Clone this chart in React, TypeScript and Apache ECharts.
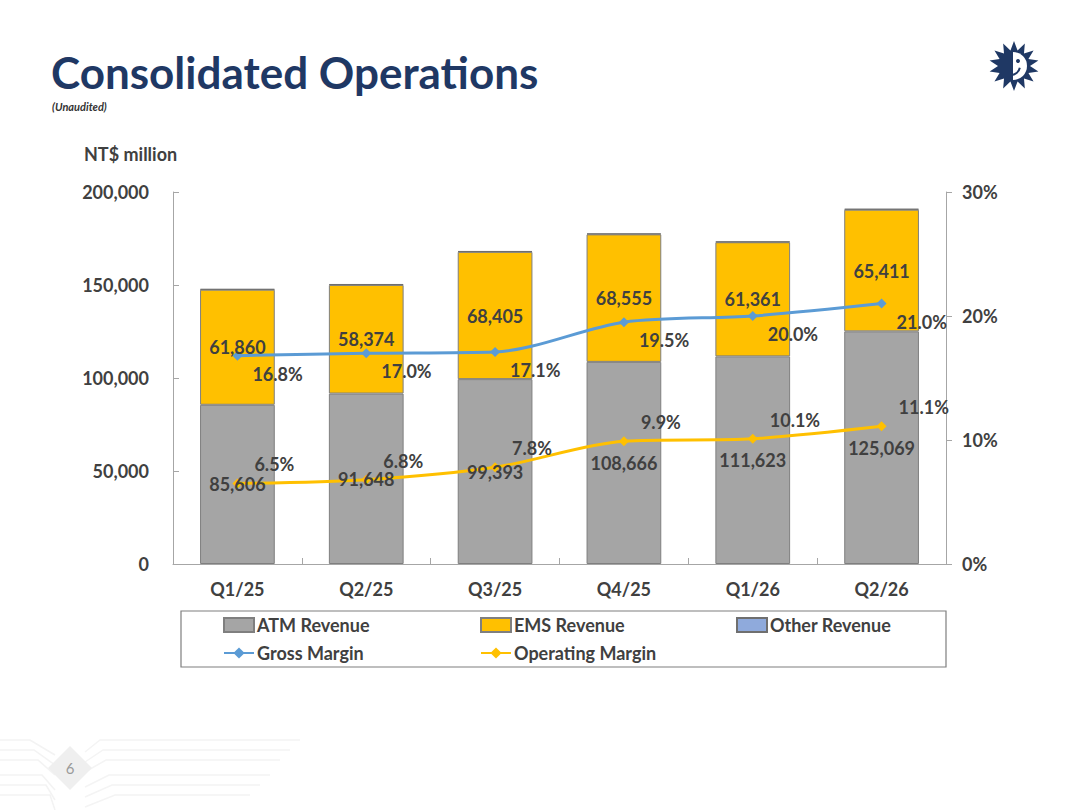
import React, { useEffect, useRef } from "react";
import * as echarts from "echarts";

const categories = ["Q1/25", "Q2/25", "Q3/25", "Q4/25", "Q1/26", "Q2/26"];
const atmRevenue = [85606, 91648, 99393, 108666, 111623, 125069];
const emsRevenue = [61860, 58374, 68405, 68555, 61361, 65411];
const otherRevenue = [400, 500, 450, 500, 450, 500];
const grossMargin = [16.8, 17.0, 17.1, 19.5, 20.0, 21.0];
const operatingMargin = [6.5, 6.8, 7.8, 9.9, 10.1, 11.1];

const FONT = "Lato, 'Open Sans', sans-serif";
const TXT = "#404040";

function starPoints(cx: number, cy: number, ro: number, ri: number, n: number) {
  const pts: number[][] = [];
  for (let i = 0; i < n * 2; i++) {
    const r = i % 2 === 0 ? ro : ri;
    const a = (Math.PI * i) / n - Math.PI / 2;
    pts.push([cx + r * Math.cos(a), cy + r * Math.sin(a)]);
  }
  return pts;
}

export default function App() {
  const ref = useRef<HTMLDivElement>(null);
  useEffect(() => {
    document.body.style.margin = "0";
    if (!ref.current) return;
    const chart = echarts.init(ref.current, undefined, { renderer: "svg" });
    const fmtNum = (p: any) => Number(p.value).toLocaleString("en-US");
    const labelBase = {
      fontFamily: FONT,
      fontWeight: "bold" as const,
      fontSize: 18,
      color: TXT,
    };
    const legendBase = {
      orient: "horizontal" as const,
      itemWidth: 30,
      itemHeight: 14,
      itemGap: 4,
      selectedMode: false,
      textStyle: { fontFamily: FONT, fontWeight: "bold" as const, fontSize: 18, color: TXT, padding: [0, 0, 0, -2] },
    };
    const footerLines: any[] = [];
    const ys = [740, 750, 760, 775, 785, 795];
    ys.forEach((y, i) => {
      footerLines.push({
        type: "polyline",
        silent: true,
        shape: { points: [[0, y], [30 + i * 4, y], [55, y + 15]] },
        style: { stroke: "#f3f3f3", lineWidth: 1.5, fill: "none" },
      });
      footerLines.push({
        type: "polyline",
        silent: true,
        shape: { points: [[85, y + 12], [100 + i * 3, y], [300 - i * 10, y]] },
        style: { stroke: "#f4f4f4", lineWidth: 1.5, fill: "none" },
      });
    });

    const hiddenBar = {
      type: "bar",
      stack: "labels",
      barGap: "-100%",
      barCategoryGap: "42%",
      silent: true,
      itemStyle: { color: "rgba(0,0,0,0)" },
      z: 10,
    };

    chart.setOption({
      animation: false,
      backgroundColor: "#ffffff",
      grid: { left: 173, right: 134, top: 192, bottom: 246, containLabel: false },
      legend: [
        { ...legendBase, left: 218, top: 611, data: [{ name: "ATM Revenue", icon: "rect" }] },
        { ...legendBase, left: 475, top: 611, data: [{ name: "EMS Revenue", icon: "rect" }] },
        { ...legendBase, left: 731, top: 611, data: [{ name: "Other Revenue", icon: "rect" }] },
        { ...legendBase, left: 218, top: 639, data: ["Gross Margin"] },
        { ...legendBase, left: 475, top: 639, data: ["Operating Margin"] },
      ],
      xAxis: {
        type: "category",
        data: categories,
        axisLine: { lineStyle: { color: "#a6a6a6", width: 1 } },
        axisTick: { show: true, inside: true, length: 6, lineStyle: { color: "#a6a6a6" } },
        axisLabel: { ...labelBase, fontSize: 18, margin: 16 },
        splitLine: { show: false },
      },
      yAxis: [
        {
          type: "value",
          min: 0,
          max: 200000,
          interval: 50000,
          axisLine: { show: true, lineStyle: { color: "#a6a6a6" } },
          axisTick: { show: true, inside: true, length: 6, lineStyle: { color: "#a6a6a6" } },
          axisLabel: { ...labelBase, margin: 24, formatter: (v: number) => v.toLocaleString("en-US") },
          splitLine: { show: false },
        },
        {
          type: "value",
          min: 0,
          max: 30,
          interval: 10,
          axisLine: { show: true, lineStyle: { color: "#a6a6a6" } },
          axisTick: { show: true, inside: false, length: 6, lineStyle: { color: "#a6a6a6" } },
          axisLabel: { ...labelBase, margin: 16, formatter: "{value}%" },
          splitLine: { show: false },
        },
      ],
      series: [
        {
          name: "ATM Revenue",
          type: "bar",
          stack: "rev",
          data: atmRevenue,
          barGap: "-100%",
          barCategoryGap: "42%",
          itemStyle: { color: "#a5a5a5", borderColor: "#7f7f7f", borderWidth: 1 },
          z: 2,
        },
        {
          name: "EMS Revenue",
          type: "bar",
          stack: "rev",
          data: emsRevenue,
          barGap: "-100%",
          itemStyle: { color: "#ffc000", borderColor: "#7f7f7f", borderWidth: 1 },
          z: 2,
        },
        {
          name: "Other Revenue",
          type: "bar",
          stack: "rev",
          data: otherRevenue,
          barGap: "-100%",
          itemStyle: { color: "#8faadc", borderColor: "#6f6f6f", borderWidth: 1 },
          label: { show: false },
          z: 2,
        },
        {
          name: "Gross Margin",
          type: "line",
          yAxisIndex: 1,
          data: grossMargin,
          smooth: 0.3,
          symbol: "diamond",
          symbolSize: 10,
          lineStyle: { color: "#5b9bd5", width: 3 },
          itemStyle: { color: "#5b9bd5" },
          label: {
            show: true,
            position: "right",
            distance: 10,
            offset: [0, 18],
            formatter: (p: any) => Number(p.value).toFixed(1) + "%",
            ...labelBase,
          },
          z: 5,
        },
        {
          name: "Operating Margin",
          type: "line",
          yAxisIndex: 1,
          data: operatingMargin,
          smooth: 0.3,
          symbol: "diamond",
          symbolSize: 10,
          lineStyle: { color: "#ffc000", width: 3 },
          itemStyle: { color: "#ffc000" },
          label: {
            show: true,
            position: "right",
            distance: 12,
            offset: [0, -19],
            formatter: (p: any) => Number(p.value).toFixed(1) + "%",
            ...labelBase,
          },
          z: 5,
        },
        {
          ...hiddenBar,
          name: "ATM label",
          data: atmRevenue,
          label: { show: true, position: "inside", formatter: fmtNum, ...labelBase },
        },
        {
          ...hiddenBar,
          name: "EMS label",
          data: emsRevenue,
          label: { show: true, position: "inside", formatter: fmtNum, ...labelBase },
        },
      ],
      graphic: [
        ...footerLines,
        {
          type: "polygon",
          silent: true,
          shape: { points: [[70, 746], [92, 768], [70, 790], [48, 768]] },
          style: { fill: "#efefef" },
        },
        {
          type: "text",
          silent: true,
          style: {
            text: "6",
            x: 70,
            y: 768,
            align: "center",
            verticalAlign: "middle",
            fontFamily: FONT,
            fontSize: 15,
            fill: "#9a9a9a",
          },
        },
        {
          type: "text",
          silent: true,
          style: {
            text: "Consolidated Operations",
            x: 51,
            y: 72,
            verticalAlign: "middle",
            fontFamily: FONT,
            fontWeight: "bold",
            fontSize: 44,
            fill: "#1f3864",
          },
        },
        {
          type: "text",
          silent: true,
          style: {
            text: "(Unaudited)",
            x: 52,
            y: 106,
            verticalAlign: "middle",
            fontFamily: FONT,
            fontWeight: "bold",
            fontStyle: "italic",
            fontSize: 11,
            fill: "#333333",
          },
        },
        {
          type: "text",
          silent: true,
          style: {
            text: "NT$ million",
            x: 84,
            y: 154,
            verticalAlign: "middle",
            fontFamily: FONT,
            fontWeight: "bold",
            fontSize: 18,
            fill: TXT,
          },
        },
        {
          type: "rect",
          silent: true,
          shape: { x: 181, y: 611, width: 765, height: 56 },
          style: { fill: "none", stroke: "#7f7f7f", lineWidth: 1.2 },
        },
        {
          type: "polygon",
          silent: true,
          shape: { points: starPoints(1014, 66, 25, 16, 14) },
          style: { fill: "#1f3864" },
        },
        {
          type: "sector",
          silent: true,
          shape: { cx: 1013, cy: 66, r: 14, r0: 0, startAngle: -Math.PI / 2, endAngle: Math.PI / 2 },
          style: { fill: "#ffffff" },
        },
        {
          type: "circle",
          silent: true,
          shape: { cx: 1018, cy: 61, r: 2 },
          style: { fill: "#1f3864" },
        },
        {
          type: "arc",
          silent: true,
          shape: { cx: 1011, cy: 66, r: 9, startAngle: 0.2, endAngle: 1.6 },
          style: { stroke: "#1f3864", lineWidth: 2, fill: "none" },
        },
      ],
    });
    return () => chart.dispose();
  }, []);
  return <div ref={ref} style={{ width: 1080, height: 810, background: "#fff" }} />;
}
